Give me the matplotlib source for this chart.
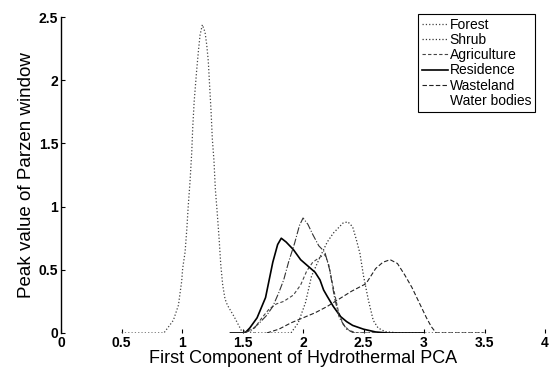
import matplotlib
matplotlib.use('Agg')
import matplotlib.pyplot as plt
from matplotlib.ticker import FormatStrFormatter

plt.rcParams['font.family'] = ['Liberation Sans', 'DejaVu Sans']

# values
forest_x = [0.5, 0.85, 0.928, 0.97, 0.997, 1.005, 1.025, 1.04, 1.05, 1.066, 1.08, 1.088, 1.10, 1.12,
            1.135, 1.149, 1.168, 1.19, 1.204, 1.217, 1.226, 1.24, 1.25, 1.264, 1.275, 1.29, 1.306,
            1.32, 1.336, 1.355, 1.375, 1.43, 1.49, 1.6]
forest_y = [0, 0, 0.10, 0.22, 0.41, 0.51, 0.64, 0.83, 0.99, 1.20, 1.43, 1.62, 1.83, 2.07,
            2.23, 2.36, 2.44, 2.38, 2.28, 2.15, 1.99, 1.75, 1.54, 1.36, 1.14, 0.96, 0.75,
            0.54, 0.38, 0.27, 0.22, 0.13, 0.02, 0]

shrub_x = [1.6, 1.9, 1.96, 2.02, 2.07, 2.14, 2.2, 2.25, 2.33, 2.37, 2.41, 2.44, 2.47, 2.5, 2.54,
           2.58, 2.62, 2.68, 2.8, 3.5]
shrub_y = [0, 0, 0.08, 0.24, 0.45, 0.60, 0.72, 0.79, 0.87, 0.88, 0.84, 0.74, 0.63, 0.45, 0.26,
           0.10, 0.04, 0.01, 0, 0]

agri_x = [1.5, 1.6, 1.66, 1.72, 1.78, 1.84, 1.92, 1.98, 2.03, 2.08, 2.14, 2.18, 2.21, 2.25, 2.29,
          2.33, 2.38, 2.45, 2.6]
agri_y = [0, 0.04, 0.12, 0.19, 0.23, 0.25, 0.30, 0.38, 0.49, 0.56, 0.60, 0.62, 0.55, 0.36, 0.18,
          0.07, 0.02, 0, 0]

resid_x = [1.4, 1.52, 1.56, 1.62, 1.69, 1.75, 1.79, 1.82, 1.86, 1.92, 1.98, 2.04, 2.1, 2.14, 2.17,
           2.2, 2.25, 2.31, 2.36, 2.41, 2.5, 2.6, 2.7, 3.0]
resid_y = [0, 0, 0.04, 0.12, 0.28, 0.56, 0.70, 0.75, 0.72, 0.66, 0.58, 0.53, 0.48, 0.42, 0.34,
           0.29, 0.21, 0.13, 0.09, 0.06, 0.03, 0.008, 0, 0]

waste_x = [1.7, 1.8, 1.9, 2.0, 2.1, 2.2, 2.3, 2.4, 2.48, 2.52, 2.56, 2.6, 2.66, 2.72, 2.78, 2.84,
           2.9, 2.96, 3.02, 3.06, 3.1, 3.5]
waste_y = [0, 0.03, 0.08, 0.12, 0.16, 0.21, 0.27, 0.33, 0.37, 0.39, 0.45, 0.51, 0.56, 0.58, 0.55,
           0.46, 0.36, 0.24, 0.12, 0.05, 0, 0]

water_x = [1.5, 1.57, 1.64, 1.70, 1.75, 1.80, 1.84, 1.88, 1.93, 1.97, 2.0, 2.04, 2.08, 2.13, 2.18,
           2.22, 2.26, 2.3, 2.36, 2.42, 2.6]
water_y = [0, 0.02, 0.08, 0.14, 0.21, 0.32, 0.42, 0.56, 0.71, 0.85, 0.91, 0.86, 0.78, 0.69, 0.64,
           0.50, 0.28, 0.12, 0.03, 0, 0]

fig = plt.figure(figsize=(5.5, 3.69), dpi=100)
ax = fig.add_axes([0.111, 0.0976, 0.88, 0.856])

ax.plot(forest_x, forest_y, ':', color='#444444', lw=0.9, label='Forest')
ax.plot(shrub_x, shrub_y, ':', color='#333333', lw=0.9, label='Shrub')
ax.plot(agri_x, agri_y, '--', color='#444444', lw=0.8, dashes=(3, 2), label='Agriculture')
ax.plot(resid_x, resid_y, '-', color='black', lw=1.2, label='Residence')
ax.plot(waste_x, waste_y, '--', color='#222222', lw=0.8, dashes=(4, 2), label='Wasteland')
ax.plot(water_x, water_y, '-.', color='#333333', lw=0.8, label='Water bodies')

ax.set_xlim(0, 4)
ax.set_ylim(0, 2.5)
ax.set_xticks([0, 0.5, 1, 1.5, 2, 2.5, 3, 3.5, 4])
ax.set_yticks([0, 0.5, 1, 1.5, 2, 2.5])
ax.xaxis.set_major_formatter(FormatStrFormatter('%g'))
ax.yaxis.set_major_formatter(FormatStrFormatter('%g'))
ax.tick_params(direction='in', length=3, width=0.8, labelsize=10, pad=2)
for lab in ax.get_xticklabels() + ax.get_yticklabels():
    lab.set_fontweight('bold')

ax.spines['top'].set_visible(False)
ax.spines['right'].set_visible(False)
ax.spines['bottom'].set_visible(False)
ax.spines['left'].set_linewidth(1.0)

ax.set_xlabel('First Component of Hydrothermal PCA', fontsize=13, labelpad=0)
ax.set_ylabel('Peak value of Parzen window', fontsize=13.5, labelpad=3)

leg = ax.legend(loc='upper right', bbox_to_anchor=(0.98, 1.01), borderaxespad=0,
                fontsize=10, handlelength=1.9, handletextpad=0.1, labelspacing=0.08,
                fancybox=False, framealpha=1, edgecolor='black', borderpad=0.3)
leg.get_frame().set_linewidth(0.8)
leg.get_lines()[5].set_visible(False)

fig.savefig('out.png', dpi=100)
